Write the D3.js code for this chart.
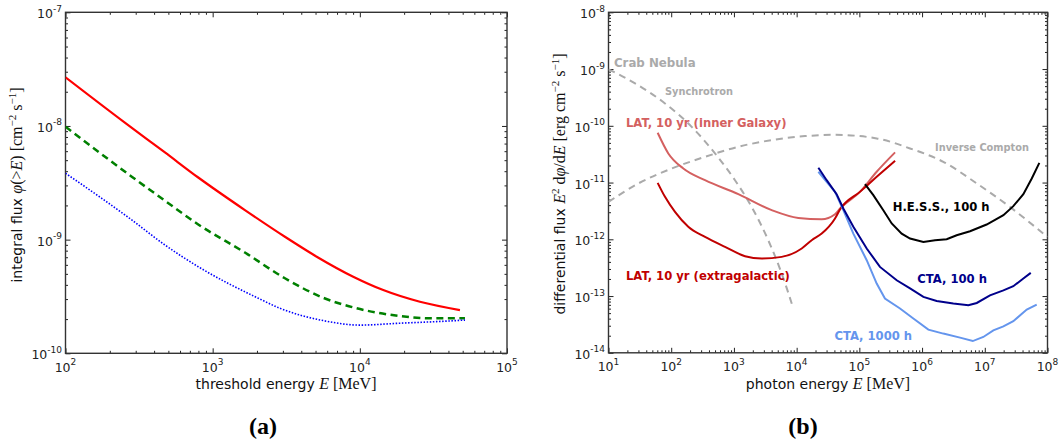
<!DOCTYPE html>
<html><head><meta charset="utf-8">
<script src="https://cdn.jsdelivr.net/npm/d3@7"></script>
<style>body{margin:0;background:#fff}svg{display:block}</style>
</head><body><svg id="c" width="1062" height="441"></svg>
<script>
// ---------- Panel (a): integral flux vs threshold energy [E (MeV), phi (cm^-2 s^-1)]
const aRedSolid = [[100,2.68e-8],[253,1.07e-8],[474,5.85e-9],[798,3.52e-9],[1656,1.82e-9],[3097,1.06e-9],[5093,7.08e-10],[9016,4.72e-10],[14420,3.6e-10],[25600,2.84e-10],[47900,2.4e-10]];
const aGreenDashed = [[100,9.86e-9],[282,3.58e-9],[474,2.2e-9],[798,1.36e-9],[1656,7.7e-10],[3097,4.57e-10],[5640,3.08e-10],[9500,2.49e-10],[18700,2.13e-10],[31500,2.03e-10],[51800,2.03e-10]];
const aBlueDotted = [[100,3.84e-9],[282,1.49e-9],[474,8.97e-10],[798,5.78e-10],[2042,3.05e-10],[2864,2.49e-10],[5640,1.94e-10],[10000,1.77e-10],[18700,1.84e-10],[33200,1.9e-10],[51800,1.96e-10]];
const aXTicks = [1e2,1e3,1e4,1e5];
const aYTicks = [1e-10,1e-9,1e-8,1e-7];

// ---------- Panel (b): differential flux [E (MeV), E^2 dphi/dE (erg cm^-2 s^-1)]
const bSynchrotron = [[10,9.89e-10],[26.5,5.6e-10],[79.6,2.48e-10],[212,9.59e-11],[499,3.26e-11],[1040,1.1e-11],[1919,3.72e-12],[3532,9.6e-13],[5781,2.49e-13],[8851,6.03e-14]];
const bInverseCompton = [[10,4.57e-12],[29.9,9.64e-12],[102,1.77e-11],[346,2.84e-11],[1175,4.27e-11],[4000,5.6e-11],[13580,6.58e-11],[40900,6.93e-11],[189000,6.0e-11],[643000,3.99e-11],[2.18e6,2.32e-11],[7.45e6,9.64e-12],[2.52e7,3.72e-12],[8.59e7,1.26e-12],[1e8,1.1e-12]];
const bLatInner = [[60.8,7.53e-11],[89.9,3.26e-11],[156,1.77e-11],[346,1.1e-11],[1175,6.24e-12],[4000,3.26e-12],[10640,2.38e-12],[25100,2.26e-12],[40900,2.77e-12],[49200,3.49e-12],[102000,6.85e-12],[189000,1.55e-11],[371000,3.4e-11]];
const bLatExtra = [[60.8,9.89e-12],[79.6,5.6e-12],[115,3.04e-12],[187,1.66e-12],[346,1.1e-12],[721,7.35e-13],[1503,5.04e-13],[2773,4.58e-13],[5781,4.9e-13],[12050,6.89e-13],[17380,9.64e-13],[25100,1.26e-12],[40900,2.33e-12],[49200,3.36e-12],[102000,6.85e-12],[189000,1.26e-11],[371000,2.42e-11]];
const bCta100 = [[22200,1.82e-11],[30100,1.1e-11],[43400,6.24e-12],[55500,3.49e-12],[80200,1.66e-12],[131000,6.89e-13],[213000,3.26e-13],[394000,1.9e-13],[643000,1.36e-13],[1.05e6,9.64e-14],[1.71e6,8.2e-14],[3.15e6,7.36e-14],[5.47e6,6.89e-14],[7.45e6,7.55e-14],[1.21e7,1.03e-13],[1.98e7,1.26e-13],[2.85e7,1.49e-13],[4.12e7,2.04e-13],[5.41e7,2.56e-13]];
const bCta1000 = [[22200,1.55e-11],[30100,1.03e-11],[40900,6.85e-12],[55500,3.26e-12],[80200,1.26e-12],[131000,4.28e-13],[189000,1.66e-13],[256000,9.04e-14],[445000,6.03e-14],[726000,4.01e-14],[1.26e6,2.56e-14],[2.18e6,2.18e-14],[4.03e6,1.85e-14],[6.43e6,1.61e-14],[9.48e6,1.9e-14],[1.37e7,2.49e-14],[1.98e7,2.93e-14],[2.85e7,3.6e-14],[4.67e7,5.78e-14],[6.73e7,7.08e-14]];
const bHess = [[123000,9.38e-12],[167000,6.0e-12],[241000,3.26e-12],[328000,1.9e-12],[473000,1.26e-12],[643000,1.03e-12],[1.05e6,8.99e-13],[1.61e6,9.64e-13],[2.47e6,1.0e-12],[3.56e6,1.18e-12],[5.82e6,1.39e-12],[1.07e7,1.82e-12],[1.98e7,2.66e-12],[2.85e7,3.84e-12],[4.12e7,6.24e-12],[5.61e7,1.18e-11],[7.41e7,2.22e-11]];
const bXTicks = [1e1,1e2,1e3,1e4,1e5,1e6,1e7,1e8];
const bYTicks = [1e-14,1e-13,1e-12,1e-11,1e-10,1e-9,1e-8];
const bLabels = ["Crab Nebula","Synchrotron","LAT, 10 yr (inner Galaxy)","LAT, 10 yr (extragalactic)","Inverse Compton","H.E.S.S., 100 h","CTA, 100 h","CTA, 1000 h"];
const bLabelAt = [[12.2,1.29e-9],[79.6,4.09e-10],[19,1.13e-10],[19,2.3e-13],[1.61e6,4.09e-11],[3.4e5,3.72e-12],[8.4e5,1.98e-13],[4.0e4,1.95e-14]];

const SANS = "DejaVu Sans, sans-serif";
const SERIF = "Liberation Serif, DejaVu Serif, serif";
const svg = d3.select("#c");
svg.append("rect").attr("width",1062).attr("height",441).attr("fill","#fff");

function minorVals(ticks){
  const out=[];
  for(let i=0;i<ticks.length-1;i++) for(let m=2;m<=9;m++) out.push(ticks[i]*m);
  return out;
}
function expOf(v){return Math.round(Math.log10(v));}

function frame(x,y,xt,yt,id){
  const g = svg.append("g");
  const [x0,x1]=x.range(), [y0,y1]=y.range();
  const defs = svg.append("defs");
  defs.append("clipPath").attr("id",id).append("rect")
    .attr("x",x0).attr("y",y1).attr("width",x1-x0).attr("height",y0-y1);
  const ax = [
    [d3.axisBottom(x), `translate(0,${y0})`, xt],
    [d3.axisTop(x), `translate(0,${y1})`, xt],
    [d3.axisLeft(y), `translate(${x0},0)`, yt],
    [d3.axisRight(y), `translate(${x1},0)`, yt]
  ];
  ax.forEach(([a,tr,t])=>{
    g.append("g").attr("transform",tr).call(a.tickValues(minorVals(t)).tickSize(-2.5).tickFormat(""));
    g.append("g").attr("transform",tr).call(a.tickValues(t).tickSize(-5).tickFormat(""));
  });
  g.selectAll(".domain").remove();
  g.selectAll(".tick line").attr("stroke","#222").attr("stroke-width",1);
  g.append("rect").attr("x",x0).attr("y",y1).attr("width",x1-x0).attr("height",y0-y1)
    .attr("fill","none").attr("stroke","#333").attr("stroke-width",1.4);
  xt.forEach(v=>{
    const t=g.append("text").attr("x",x(v)).attr("y",y0+18.5).attr("text-anchor","middle")
      .attr("font-family",SANS).attr("font-size",12.5).attr("fill","#222");
    t.append("tspan").text("10");
    t.append("tspan").attr("dy",-6.5).attr("font-size",9).text(expOf(v));
  });
  yt.forEach(v=>{
    const t=g.append("text").attr("x",x0-3.5).attr("y",y(v)+6).attr("text-anchor","end")
      .attr("font-family",SANS).attr("font-size",12.5).attr("fill","#222");
    t.append("tspan").text("10");
    t.append("tspan").attr("dy",-6.5).attr("font-size",9).text(expOf(v));
  });
  return g;
}

function addRuns(t, runs){
  let shift=0;
  runs.forEach(r=>{
    const s=t.append("tspan").text(r.t);
    if(r.serif) s.attr("font-family",SERIF).attr("font-size",16);
    if(r.it) s.attr("font-style","italic");
    const want = r.sup?-6:0;
    if(want!==shift){ s.attr("dy",want-shift); shift=want; }
    if(r.sup) s.attr("font-size",11);
  });
}

// ---------- Panel (a)
const xa = d3.scaleLog().domain([1e2,1e5]).range([65.5,507]);
const ya = d3.scaleLog().domain([1e-10,1e-7]).range([353.3,12.3]);
frame(xa,ya,aXTicks,aYTicks,"clipA");
const lineA = d3.line().x(d=>xa(d[0])).y(d=>ya(d[1])).curve(d3.curveMonotoneX);
const ga = svg.append("g").attr("clip-path","url(#clipA)");
ga.append("path").datum(aRedSolid).attr("d",lineA).attr("fill","none").attr("stroke","#ff0000").attr("stroke-width",2.2);
ga.append("path").datum(aGreenDashed).attr("d",lineA).attr("fill","none").attr("stroke","#008000").attr("stroke-width",2.5).attr("stroke-dasharray","7,4.5");
ga.append("path").datum(aBlueDotted).attr("d",lineA).attr("fill","none").attr("stroke","#0000ff").attr("stroke-width",1.6).attr("stroke-dasharray","1.5,1.6");

{
  const t=svg.append("text").attr("transform","translate(22,185) rotate(-90)").attr("text-anchor","middle")
    .attr("font-family",SANS).attr("font-size",14).attr("fill","#111");
  addRuns(t,[{t:"integral flux "},{t:"φ",serif:1,it:1},{t:"(>",serif:1},{t:"E",serif:1,it:1},{t:")  [cm",serif:1},{t:"−2",serif:1,sup:1},{t:" s",serif:1},{t:"−1",serif:1,sup:1},{t:"]",serif:1}]);
  const u=svg.append("text").attr("x",286).attr("y",389).attr("text-anchor","middle")
    .attr("font-family",SANS).attr("font-size",14).attr("fill","#111");
  addRuns(u,[{t:"threshold energy "},{t:"E",serif:1,it:1},{t:" [MeV]",serif:1}]);
  svg.append("text").attr("x",263).attr("y",434).attr("text-anchor","middle")
    .attr("font-family",SERIF).attr("font-weight","bold").attr("font-size",24).text("(a)");
}

// ---------- Panel (b)
const xb = d3.scaleLog().domain([1e1,1e8]).range([608.5,1047.5]);
const yb = d3.scaleLog().domain([1e-14,1e-8]).range([352.8,12.3]);
frame(xb,yb,bXTicks,bYTicks,"clipB");
const lineBs = d3.line().x(d=>xb(d[0])).y(d=>yb(d[1])).curve(d3.curveMonotoneX);
const lineBl = d3.line().x(d=>xb(d[0])).y(d=>yb(d[1]));
const gb = svg.append("g").attr("clip-path","url(#clipB)");
gb.append("path").datum(bSynchrotron).attr("d",lineBs).attr("fill","none").attr("stroke","#aaaaaa").attr("stroke-width",2).attr("stroke-dasharray","7,5");
gb.append("path").datum(bInverseCompton).attr("d",lineBs).attr("fill","none").attr("stroke","#aaaaaa").attr("stroke-width",2).attr("stroke-dasharray","7,5");
gb.append("path").datum(bLatInner).attr("d",lineBs).attr("fill","none").attr("stroke","#d46060").attr("stroke-width",2);
gb.append("path").datum(bLatExtra).attr("d",lineBs).attr("fill","none").attr("stroke","#c00000").attr("stroke-width",2);
gb.append("path").datum(bCta1000).attr("d",lineBl).attr("fill","none").attr("stroke","#6495ed").attr("stroke-width",2);
gb.append("path").datum(bCta100).attr("d",lineBl).attr("fill","none").attr("stroke","#00008b").attr("stroke-width",2);
gb.append("path").datum(bHess).attr("d",lineBl).attr("fill","none").attr("stroke","#000000").attr("stroke-width",2);

const labColors = ["#aaaaaa","#aaaaaa","#d46060","#c00000","#aaaaaa","#000000","#00008b","#6495ed"];
const labSizes = [11.8,9.8,11.6,11.6,9.8,11.6,11.6,11.6];
bLabels.forEach((s,i)=>{
  svg.append("text").attr("x",xb(bLabelAt[i][0])).attr("y",yb(bLabelAt[i][1])).attr("dominant-baseline","central")
    .attr("font-family",SANS).attr("font-weight","bold").attr("font-size",labSizes[i]).attr("fill",labColors[i]).text(s);
});

{
  const t=svg.append("text").attr("transform","translate(565,184) rotate(-90)").attr("text-anchor","middle")
    .attr("font-family",SANS).attr("font-size",14).attr("fill","#111");
  addRuns(t,[{t:"differential flux "},{t:"E",serif:1,it:1},{t:"2",serif:1,sup:1},{t:" d",serif:1},{t:"φ",serif:1,it:1},{t:"/d",serif:1},{t:"E",serif:1,it:1},{t:" [erg cm",serif:1},{t:"−2",serif:1,sup:1},{t:" s",serif:1},{t:"−1",serif:1,sup:1},{t:"]",serif:1}]);
  const u=svg.append("text").attr("x",828).attr("y",389).attr("text-anchor","middle")
    .attr("font-family",SANS).attr("font-size",14).attr("fill","#111");
  addRuns(u,[{t:"photon energy "},{t:"E",serif:1,it:1},{t:" [MeV]",serif:1}]);
  svg.append("text").attr("x",803).attr("y",434).attr("text-anchor","middle")
    .attr("font-family",SERIF).attr("font-weight","bold").attr("font-size",24).text("(b)");
}
</script></body></html>
